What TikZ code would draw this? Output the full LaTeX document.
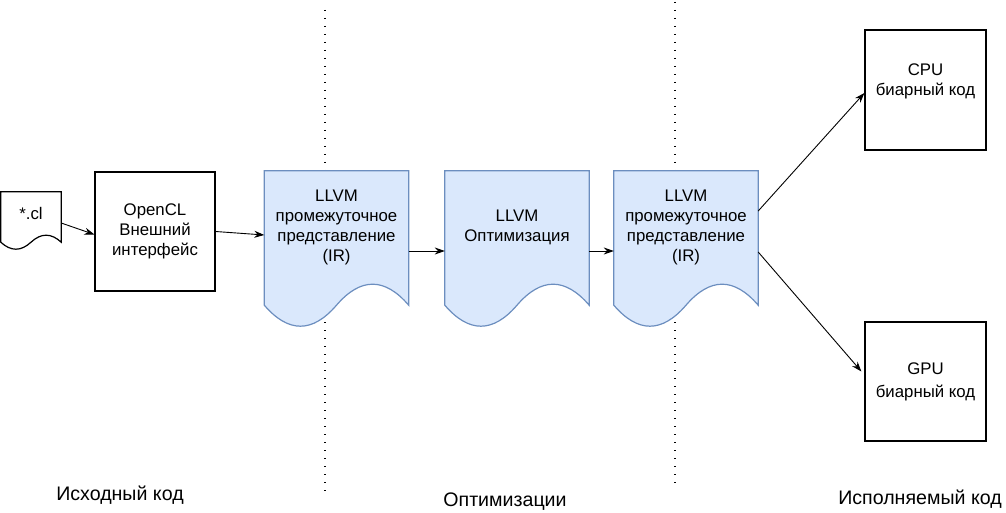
\documentclass[tikz,border=0pt]{standalone}
\usepackage{fontspec}
\setmainfont{Liberation Sans}
\usetikzlibrary{calc,arrows.meta,backgrounds}
\definecolor{irfill}{HTML}{DAE8FC}
\definecolor{irline}{HTML}{6C8EBF}
\newcommand{\blockfont}{\fontsize{16.8}{20}\selectfont}
\newcommand{\stagefont}{\fontsize{19.6}{23}\selectfont}
% document outline below a node: #1 node, #2 drop, #3 wave height, #4 style
\newcommand{\wavedoc}[4]{%
  \draw[#4] let \p1=(#1.north west), \p2=(#1.south east),
    \n1={\x2-\x1}, \n2={\y2-#2pt} in
    (\x1,\y1) -- (\x2,\y1) -- (\x2,{\n2*1pt})
    .. controls ({\x2-\n1*1pt/6},{\n2*1pt+4pt*#3/3}) and ({\x1+\n1*2pt/3},{\n2*1pt+4pt*#3/3}) .. ({\x1+\n1*1pt/2},{\n2*1pt})
    .. controls ({\x1+\n1*1pt/3},{\n2*1pt-4pt*#3/3}) and ({\x1+\n1*1pt/6},{\n2*1pt-4pt*#3/3}) .. (\x1,{\n2*1pt})
    -- cycle;}

\begin{document}
\begin{tikzpicture}[x=1pt,y=-1pt,
   plainbox/.style={draw,line width=1.2pt,inner sep=0pt,align=center,font=\blockfont},
   irbox/.style={inner sep=0pt,minimum width=144pt,minimum height=112pt,align=center,font=\blockfont},
   irshape/.style={fill=irfill,draw=irline,line width=1.2pt},
   sep/.style={line width=1.4pt,dash pattern=on 1.4pt off 6.6pt},
   arr/.style={-{Stealth[length=10pt,width=7pt]},line width=0.9pt},
   stage/.style={font=\stagefont}]
\useasboundingbox (0,0) rectangle (1006,513);

\node[inner sep=0pt,minimum width=60pt,minimum height=42pt,font=\blockfont] (cl) at (31,213) {*.cl};
\node[plainbox,minimum width=120pt,minimum height=119pt] (front) at (155,231.5) {OpenCL\\Внешний\\интерфейс};
\node[irbox] (ir1) at (336.5,227) {LLVM\\промежуточное\\представление\\(IR)};
\node[irbox] (opt) at (517,227) {LLVM\\Оптимизация};
\node[irbox] (ir2) at (686,227) {LLVM\\промежуточное\\представление\\(IR)};
\node[plainbox,minimum width=121pt,minimum height=120pt] (cpu) at (925.5,90) {CPU\\биарный код\\\mbox{}};
\node[plainbox,minimum width=121pt,minimum height=119pt] (gpu) at (925.5,381.5) {GPU\\[3pt]биарный код};

\begin{scope}[on background layer]
  \draw[sep] (325,10) -- (325,492);
  \draw[sep] (675,2) -- (675,485);
  \wavedoc{cl}{8}{7}{fill=white,draw=black,line width=1.2pt}
  \wavedoc{ir1}{22}{21}{irshape}
  \wavedoc{opt}{22}{21}{irshape}
  \wavedoc{ir2}{22}{21}{irshape}
\end{scope}

\draw[arr] ([yshift=-10pt]cl.east) -- ([yshift=-3pt]front.west);
\draw[arr] (front.east) -- ([yshift=-8pt]ir1.west);
\draw[arr] ([yshift=-24pt]ir1.east) -- ([yshift=-24pt]opt.west);
\draw[arr] ([yshift=-24pt]opt.east) -- ([yshift=-24pt]ir2.west);
\draw[arr] ([yshift=16pt]ir2.east) -- ([yshift=-3pt]cpu.west);
\draw[arr] ([yshift=-25pt]ir2.east) -- ([xshift=-3pt,yshift=10pt]gpu.west);

\node[stage] (src) at (120,495) {Исходный код};
\node[stage] (optim) at (505,502) {Оптимизации};
\node[stage] (exec) at (920,499) {Исполняемый код};
\end{tikzpicture}
\end{document}
